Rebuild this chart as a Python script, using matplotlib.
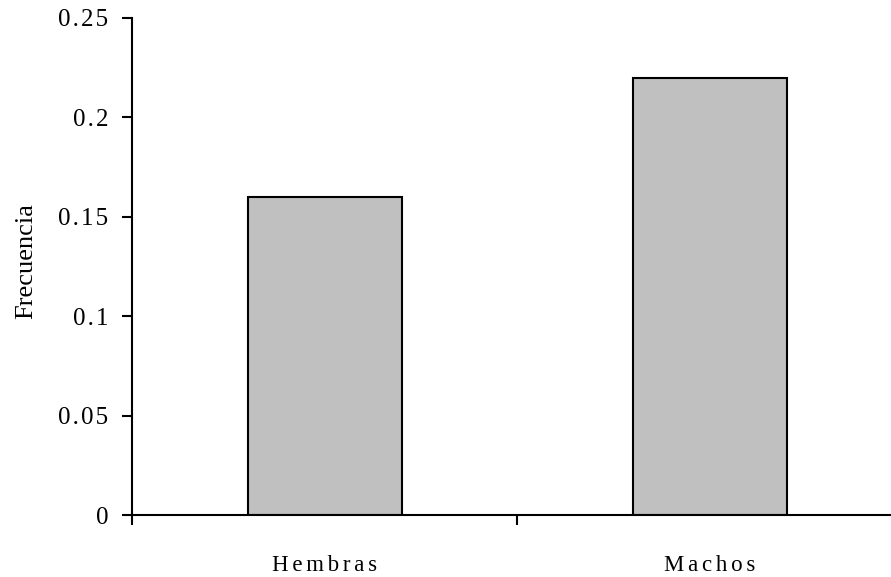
import matplotlib
matplotlib.use("Agg")
import matplotlib.pyplot as plt

categories = ["Hembras", "Machos"]
values = [0.16, 0.22]
yticks = [0, 0.05, 0.1, 0.15, 0.2, 0.25]
ytick_labels = ["0", "0.05", "0.1", "0.15", "0.2", "0.25"]
ylabel = "Frecuencia"

def spaced(s, sp):
    return sp.join(list(s))

plt.rcParams['font.family'] = ['Liberation Serif', 'DejaVu Serif']

W, H = 891, 577
fig = plt.figure(figsize=(W / 100, H / 100), dpi=100)
left, right, top, bottom = 132, 891, 18, 515
ax = fig.add_axes([left / W, (H - bottom) / H, (right - left) / W, (bottom - top) / H])

x = list(range(len(categories)))
ax.bar(x, values, width=0.40, color="#c0c0c0", edgecolor="black", linewidth=1.5, zorder=3)

for s in ["top", "right"]:
    ax.spines[s].set_visible(False)
for s in ["left", "bottom"]:
    ax.spines[s].set_linewidth(1.5)
    ax.spines[s].set_zorder(4)

ax.set_yticks(yticks)
ax.set_yticklabels([spaced(t, "\u200a") for t in ytick_labels])
ax.tick_params(axis="y", direction="out", length=7, width=1.5, pad=10, labelsize=18)

ax.set_xticks([-0.5, 0.5, 1.5])
ax.set_xticklabels([])
ax.set_xticks(x, minor=True)
ax.set_xticklabels([spaced(c, "\u2006") for c in categories], minor=True)
ax.tick_params(axis="x", which="major", direction="out", length=7, width=1.5)
ax.tick_params(axis="x", which="minor", length=0, pad=29, labelsize=16.5)

ax.set_xlim(-0.5, 0.5 + (right - 517) / 385)
ax.set_ylim(0, 0.25)

ax.set_ylabel(ylabel, fontsize=19)
ax.yaxis.set_label_coords(-0.125, 0.51)

fig.savefig("out.png", dpi=100)
